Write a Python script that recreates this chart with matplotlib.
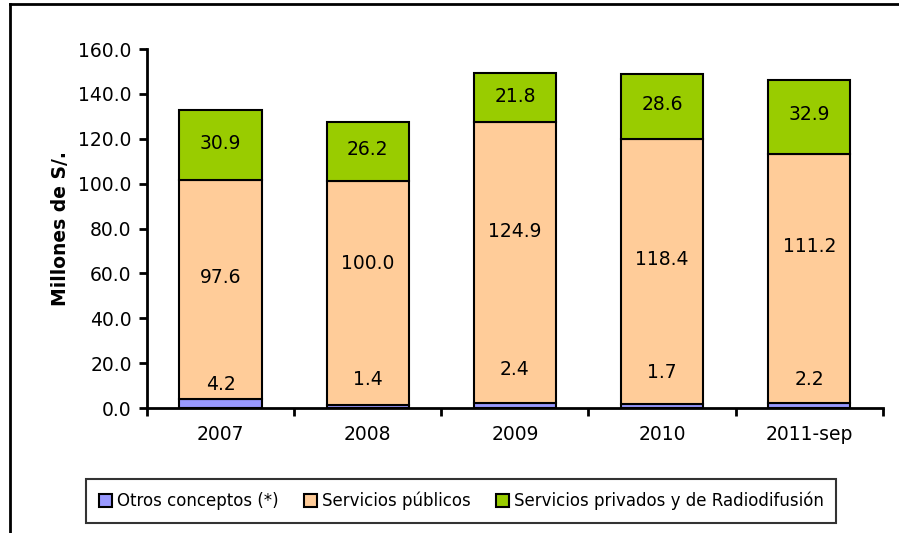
import matplotlib.pyplot as plt
from matplotlib.lines import Line2D

plt.rcParams['font.family'] = ['Verdana', 'DejaVu Sans']

anios = ["2007", "2008", "2009", "2010", "2011-sep"]
otros = [4.2, 1.4, 2.4, 1.7, 2.2]
publicos = [97.6, 100.0, 124.9, 118.4, 111.2]
privados = [30.9, 26.2, 21.8, 28.6, 32.9]

# alturas de las etiquetas (en unidades del eje)
y_otros = [10.5, 12.5, 17.0, 16.0, 12.5]
y_publicos = [58.0, 64.5, 78.5, 66.0, 72.0]

c_otros = "#9999ff"
c_publicos = "#ffcc99"
c_privados = "#99cc00"

fig = plt.figure(figsize=(8.99, 5.33), dpi=100)
ax = fig.add_axes([0.1635, 0.2345, 0.8185, 0.6735])

x = range(len(anios))
w = 0.56
base2 = [a + b for a, b in zip(otros, publicos)]
ax.bar(x, otros, w, color=c_otros, edgecolor="black", linewidth=1.5,
       label="Otros conceptos (*)")
ax.bar(x, publicos, w, bottom=otros, color=c_publicos, edgecolor="black",
       linewidth=1.5, label="Servicios públicos")
ax.bar(x, privados, w, bottom=base2, color=c_privados, edgecolor="black",
       linewidth=1.5, label="Servicios privados y de Radiodifusión")

fs = 13.5
for i in x:
    ax.text(i, y_otros[i], f"{otros[i]:.1f}", ha="center", va="center", fontsize=fs)
    ax.text(i, y_publicos[i], f"{publicos[i]:.1f}", ha="center", va="center", fontsize=fs)
    ax.text(i, base2[i] + privados[i] / 2 + 0.8, f"{privados[i]:.1f}",
            ha="center", va="center", fontsize=fs)

ax.set_xlim(-0.5, len(anios) - 0.5)
ax.set_ylim(0, 160)
ax.set_yticks(range(0, 161, 20))
ax.set_yticklabels([f"{v:.1f}" for v in range(0, 161, 20)], fontsize=fs)
ax.set_xticks([i - 0.5 for i in range(len(anios) + 1)])
ax.set_xticklabels([])
ax.set_xticks(list(x), minor=True)
ax.set_xticklabels(anios, minor=True, fontsize=fs)
ax.tick_params(axis="x", which="minor", length=0, pad=12)
ax.tick_params(axis="x", which="major", length=6, width=2, direction="out")
ax.tick_params(axis="y", length=6, width=2, direction="out", pad=5)
ax.set_ylabel("Millones de S/.", fontsize=13.5, fontweight="bold", labelpad=6)

for s in ["top", "right"]:
    ax.spines[s].set_visible(False)
for s in ["left", "bottom"]:
    ax.spines[s].set_linewidth(2)

leg = fig.legend(loc="center", bbox_to_anchor=(0.513, 0.06), ncol=3,
                 fontsize=12, frameon=True, fancybox=False, edgecolor="black",
                 handlelength=0.8, handleheight=0.8, handletextpad=0.3,
                 columnspacing=1.5, borderpad=0.75)
leg.get_frame().set_linewidth(1.5)

# marco exterior
fig.add_artist(Line2D([10 / 899, 1], [1 - 4 / 533, 1 - 4 / 533], color="black", lw=2))
fig.add_artist(Line2D([10 / 899, 10 / 899], [0, 1 - 4 / 533], color="black", lw=2))

fig.savefig("out.png", dpi=100)
